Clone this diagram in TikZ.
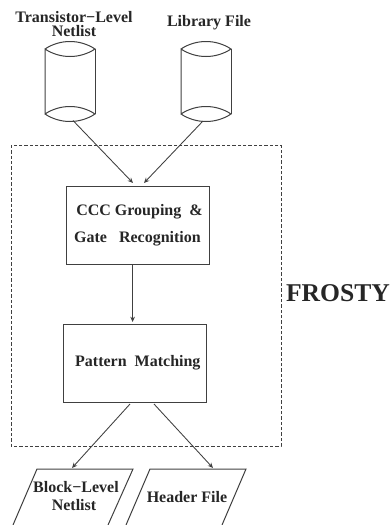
\documentclass[tikz,border=0pt]{standalone}
\usepackage{fontspec}
\setmainfont{Liberation Serif}
\usetikzlibrary{arrows.meta}
\definecolor{ink}{gray}{0.25}
\tikzset{
  px/.style={x=0.75pt,y=-0.75pt},
  outl/.style={draw=ink,line width=0.75pt},
  conn/.style={draw=ink,line width=0.65pt,-{Stealth[length=4pt,width=3.5pt]}},
  lab/.style={font=\bfseries\fontsize{12}{10.5}\selectfont,align=center,text=black!85,inner sep=0pt},
  blockbox/.style={outl,rectangle,minimum width=107.25pt,minimum height=58.5pt,inner sep=0pt,
    font=\bfseries\fontsize{12}{20}\selectfont,align=center,text=black!85},
  ghost/.style={rectangle,minimum width=37.5pt,minimum height=58.5pt,inner sep=0pt},
}
\begin{document}
\begin{tikzpicture}[px]
\useasboundingbox (0,0) rectangle (392,525);
\draw[draw=ink,line width=0.7pt,dash pattern=on 2.4pt off 1.6pt] (11,145) rectangle (281,446);
% cylinders
\node[ghost] (cyl1) at (70,81) {};
\node[ghost] (cyl2) at (206,81) {};
\draw[outl] (45,49) .. controls (60,39) and (80,39) .. (95,49) .. controls (80,59) and (60,59) .. (45,49) -- (45,114) .. controls (60,104) and (80,104) .. (95,114) .. controls (80,124) and (60,124) .. (45,114);
\draw[outl] (95,49) -- (95,114);
\draw[outl] (181,49) .. controls (196,39) and (216,39) .. (231,49) .. controls (216,59) and (196,59) .. (181,49) -- (181,114) .. controls (196,104) and (216,104) .. (231,114) .. controls (216,124) and (196,124) .. (181,114);
\draw[outl] (231,49) -- (231,114);
\node[lab] (t1) at (74,24) {Transistor−Level\\Netlist};
\node[lab] (t2) at (209,23) {Library File};
% blocks
\node[blockbox] (b1) at (137.5,225) {\hspace*{3pt}CCC Grouping\ \ \&\\Gate\ \ \ Recognition};
\node[blockbox] (b2) at (134.5,363) {\hspace*{5pt}Pattern\ \ Matching};
\node[lab,font=\bfseries\fontsize{19.2}{20}\selectfont] (frosty) at (338,293) {FROSTY};
% connector ends
\coordinate (s1) at (73,120.5);
\coordinate (s2) at (203,121);
\coordinate (e1) at (133,183);
\coordinate (e2) at (144,183);
\coordinate (m1) at (132.6,265);
\coordinate (m2) at (132.6,322);
\coordinate (o1) at (130,404);
\coordinate (o2) at (154,404);
\coordinate (p1) at (72,468);
\coordinate (p2) at (213,468);
\draw[conn] (s1) -- (e1);
\draw[conn] (s2) -- (e2);
\draw[conn] (m1) -- (m2);
\draw[conn] (o1) -- (p1);
\draw[conn] (o2) -- (p2);
% output files
\draw[outl] (13,525) -- (37,469) -- (133,469) -- (108,525);
\draw[outl] (126,525) -- (150,469) -- (246,469) -- (222,525);
\node[lab,font=\bfseries\fontsize{12}{13.5}\selectfont] (t3) at (74,496) {\hspace*{3pt}Block−Level\\Netlist};
\node[lab] (t4) at (187,497) {Header File};
\end{tikzpicture}
\end{document}
